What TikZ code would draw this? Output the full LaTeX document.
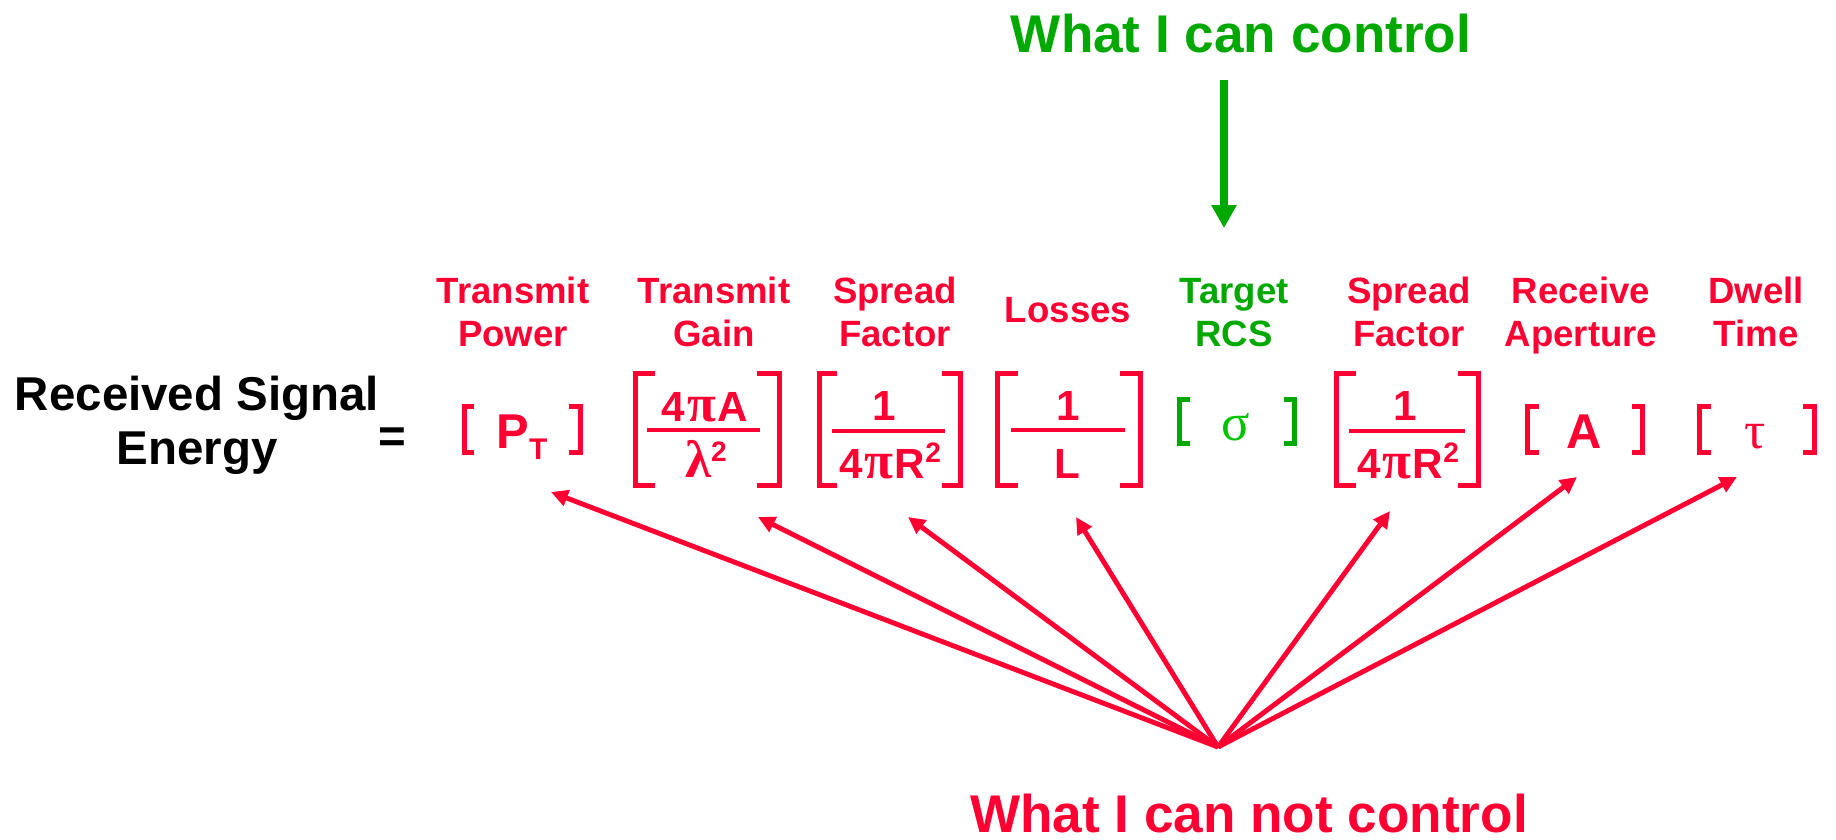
\documentclass[tikz,border=0pt]{standalone}
\usepackage{fontspec}
\setmainfont{Liberation Sans}
\newfontfamily\grk{Liberation Serif}
\usetikzlibrary{arrows.meta}

\definecolor{rred}{HTML}{FF0033}
\definecolor{ggreen}{HTML}{00A800}
\definecolor{sgreen}{HTML}{00C400}

\newcommand\fsz[2]{\fontsize{#1}{#2}\selectfont}
\newcommand\sqr{\raisebox{4.4pt}{\fsz{8}{9}2}}
\newcommand\gpi{{\grk\fsz{15}{16}\kern0.5pt π\kern0.5pt}}
\newcommand\twol[2]{\begin{tabular}[t]{@{}c@{}}#1\\#2\end{tabular}}

% square brackets: left x, right x, top y, bottom y (outer edges, px units)
\newcommand\bopen[5][rred]{%
  \draw[brk,#1] (#3,#4+2.5) -- (#2+2.5,#4+2.5) -- (#2+2.5,#5-2.5) -- (#3,#5-2.5);}
\newcommand\bclose[5][rred]{%
  \draw[brk,#1] (#2,#4+2.5) -- (#3-2.5,#4+2.5) -- (#3-2.5,#5-2.5) -- (#2,#5-2.5);}

\begin{document}
\begin{tikzpicture}[x=0.01cm,y=-0.01cm,
  lbl/.style={font=\fsz{10.4}{12.5}\bfseries, text=rred, anchor=base, inner sep=0pt},
  blk/.style={font=\fsz{13.5}{15.6}\bfseries, text=black, anchor=base, inner sep=0pt},
  ttl/.style={font=\fsz{15.1}{18}\bfseries, anchor=base, inner sep=0pt},
  sym/.style={font=\fsz{13.9}{16}\bfseries, text=rred, anchor=base, inner sep=0pt},
  num/.style={font=\fsz{12}{14}\bfseries, text=rred, anchor=base, inner sep=0pt},
  grkbig/.style={font=\grk\fsz{15}{17}, text=rred, anchor=base, inner sep=0pt},
  brk/.style={line width=1.42pt, line cap=butt, line join=miter},
  bar/.style={draw=rred, line width=0.9pt},
  rarr/.style={draw=rred, line width=1.4pt, -{Triangle[length=4.8pt,width=4.6pt]}},
  garr/.style={draw=ggreen, line width=2pt, -{Triangle[length=6.5pt,width=6.8pt]}}
]
\useasboundingbox (0,0) rectangle (1836,839);

% titles
\node[ttl, text=ggreen] (can) at (1241,52) {What I can control};
\node[ttl, text=rred] (cannot) at (1249,832) {What I can not control};

% left-hand side
\node[blk] (rse) at (197,410) {\twol{Received Signal}{Energy}};
\node[blk] (eq) at (392,452) {=};

% factor captions
\node[lbl] (lTP) at (513,303) {\twol{Transmit}{Power}};
\node[lbl] (lTG) at (714,303) {\twol{Transmit}{Gain}};
\node[lbl] (lSF1) at (895,303) {\twol{Spread}{Factor}};
\node[lbl] (lLS) at (1068,322) {Losses};
\node[lbl, text=ggreen] (lRCS) at (1234,303) {\twol{Target}{RCS}};
\node[lbl] (lSF2) at (1409,303) {\twol{Spread}{Factor}};
\node[lbl] (lRA) at (1581,303) {\twol{Receive}{Aperture}};
\node[lbl] (lDT) at (1756,303) {\twol{Dwell}{Time}};

% factors
\node[sym] (PT) at (522,448) {P\raisebox{-3.4pt}{\fsz{8.5}{9}T}};
\bopen{462}{474}{404}{455}\bclose{569}{583}{404}{455}

\node[num] (gN) at (705,421) {4\gpi A};
\node[num] (gD) at (706,477) {{\grk\fsz{15}{16}λ}\sqr};
\draw[bar] (647,430) -- (760,430);
\bopen{633}{655}{371}{488}\bclose{757}{782}{371}{488}

\node[num] (s1N) at (884,420) {1};
\node[num] (s1D) at (890,478) {4\gpi R\sqr};
\draw[bar] (832,431) -- (945,431);
\bopen{817}{837}{371}{488}\bclose{942}{963}{371}{488}

\node[num] (lN) at (1068,420) {1};
\node[num] (lD) at (1067,478) {L};
\draw[bar] (1011,430) -- (1125,430);
\bopen{995}{1018}{371}{488}\bclose{1120}{1143}{371}{488}

\node[grkbig, text=sgreen] (sig) at (1236,440) {σ};
\bopen[ggreen]{1177}{1190}{397}{446}\bclose[ggreen]{1284}{1297}{397}{446}

\node[num] (s2N) at (1405,420) {1};
\node[num] (s2D) at (1408,478) {4\gpi R\sqr};
\draw[bar] (1349,431) -- (1465,431);
\bopen{1334}{1356}{371}{488}\bclose{1458}{1481}{371}{488}

\node[sym] (rA) at (1584,448) {A};
\bopen{1525}{1539}{404}{455}\bclose{1632}{1645}{404}{455}

\node[grkbig] (tau) at (1755,448) {τ};
\bopen{1697}{1711}{404}{455}\bclose{1803}{1817}{404}{455}

% controllable factor
\coordinate (ctop) at (1224,80);
\coordinate (cbot) at (1224,228);
\draw[garr] (ctop) -- (cbot);

% uncontrollable factors
\coordinate (src) at (1218,747);
\coordinate (tPT) at (551,492);
\coordinate (tTG) at (758,517);
\coordinate (tSF1) at (908,517);
\coordinate (tLS) at (1076,517);
\coordinate (tSF2) at (1390,511);
\coordinate (tRA) at (1577,477);
\coordinate (tDT) at (1737,477);
\foreach \t in {tPT,tTG,tSF1,tLS,tSF2,tRA,tDT}
  \draw[rarr] (src) -- (\t);
\end{tikzpicture}
\end{document}
